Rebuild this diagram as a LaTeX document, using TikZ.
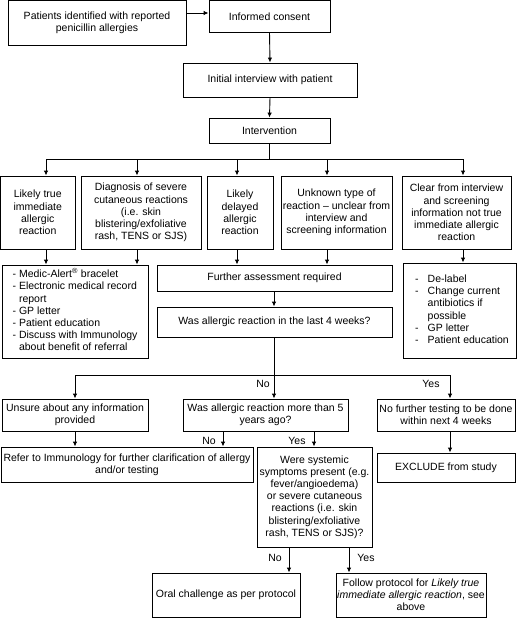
\documentclass[tikz,border=0pt]{standalone}
\usepackage{fontspec}
\setmainfont{Liberation Sans}
\usetikzlibrary{arrows.meta}
\newcommand{\mybox}[6]{\node[box, minimum width={#4pt-#2pt}, minimum height={#5pt-#3pt}] (#1) at ({(#2+#4)/2},{(#3+#5)/2}) {#6};}
\begin{document}
\begin{tikzpicture}[x=1pt,y=-1pt,
  txt/.style={font=\fontsize{10.5}{12.2}\selectfont},
  box/.style={draw, line width=0.9pt, align=center, inner sep=1pt, txt},
  arr/.style={line width=0.9pt, -{Latex[length=5pt,width=4.5pt]}},
  ln/.style={line width=0.9pt},
  lab/.style={txt, inner sep=1pt}]
\useasboundingbox (0,0) rectangle (520,618);
% boxes
\mybox{pat}{8}{0.5}{186}{45}{Patients identified with reported\\penicillin allergies}
\mybox{cons}{209}{0.5}{330}{32}{Informed consent}
\mybox{init}{183}{63}{357}{97}{Initial interview with patient}
\mybox{interv}{209}{118}{330}{143}{Intervention}
\mybox{b1}{0.5}{176}{75}{249}{Likely true\\immediate\\allergic\\reaction}
\mybox{b2}{81}{176}{201}{249}{Diagnosis of severe\\cutaneous reactions\\(i.e. skin\\blistering/exfoliative\\rash, TENS or SJS)}
\mybox{b3}{207}{176}{273}{249}{Likely\\delayed\\allergic\\reaction}
\mybox{b4}{281}{176}{392}{249}{Unknown type of\\reaction -- unclear from\\interview and\\screening information}
\mybox{b5}{402}{176}{511}{249}{Clear from interview\\and screening\\information not true\\immediate allergic\\reaction}
\mybox{medic}{2}{265}{148}{358}{\begin{tabular}{@{}l@{\hspace{3pt}}l@{}}-&Medic-Alert\textsuperscript{®} bracelet\\-&Electronic medical record\\&report\\-&GP letter\\-&Patient education\\-&Discuss with Immunology\\&about benefit of referral\end{tabular}}
\mybox{further}{157}{265}{392}{291}{Further assessment required}
\mybox{was4}{157}{307}{392}{337}{Was allergic reaction in the last 4 weeks?}
\mybox{delabel}{403}{263}{516}{358}{\begin{tabular}{@{\hspace{5pt}}l@{\hspace{9pt}}l@{}}-&De-label\\-&Change current\\&antibiotics if\\&possible\\-&GP letter\\-&Patient education\end{tabular}}
\mybox{unsure}{2}{399}{148}{431}{Unsure about any information\\provided}
\mybox{more5}{183}{399}{348}{431}{Was allergic reaction more than 5\\years ago?}
\mybox{nofurther}{377}{399}{515}{431}{No further testing to be done\\within next 4 weeks}
\mybox{refer}{1}{447}{253}{482}{Refer to Immunology for further clarification of allergy\\and/or testing}
\mybox{systemic}{257}{447}{372}{547}{Were systemic\\symptoms present (e.g.\\fever/angioedema)\\or severe cutaneous\\reactions (i.e. skin\\blistering/exfoliative\\rash, TENS or SJS)?}
\mybox{exclude}{377}{453}{515}{482}{EXCLUDE from study}
\mybox{oral}{152}{573}{300}{617}{Oral challenge as per protocol}
\mybox{follow}{336}{573}{486}{617}{Follow protocol for \emph{Likely true}\\\emph{immediate allergic reaction}, see\\above}
% helper coordinates
\coordinate (bus) at (0,159);
\coordinate (bus2) at (0,375);
\coordinate (x46) at (46,0);
\coordinate (x137) at (137,0);
\coordinate (x237) at (237,0);
\coordinate (x327) at (327,0);
\coordinate (x463) at (463,0);
\coordinate (x274) at (274,0);
\coordinate (x75) at (75,0);
\coordinate (x450) at (450,0);
\coordinate (x223) at (223,0);
\coordinate (x314) at (314,0);
\coordinate (x289) at (289,0);
\coordinate (x349) at (349,0);
\coordinate (y13) at (0,13);
% connectors
\draw[arr] (pat.east |- y13) -- (cons.west |- y13);
\draw[arr] (cons.south) -- (init.north);
\draw[arr] (init.south) -- (interv.north);
\draw[ln] (interv.south) -- (interv.south |- bus);
\draw[ln] (x46 |- bus) -- (x463 |- bus);
\draw[arr] (x46 |- bus) -- (x46 |- b1.north);
\draw[arr] (x137 |- bus) -- (x137 |- b2.north);
\draw[arr] (x237 |- bus) -- (x237 |- b3.north);
\draw[arr] (x327 |- bus) -- (x327 |- b4.north);
\draw[arr] (x463 |- bus) -- (x463 |- b5.north);
\draw[arr] (x46 |- b1.south) -- (x46 |- medic.north);
\draw[arr] (x137 |- b2.south) -- (x137 |- medic.north);
\draw[arr] (x237 |- b3.south) -- (x237 |- further.north);
\draw[arr] (x327 |- b4.south) -- (x327 |- further.north);
\draw[arr] (x463 |- b5.south) -- (x463 |- delabel.north);
\draw[arr] (x274 |- further.south) -- (x274 |- was4.north);
\draw[ln] (x274 |- was4.south) -- (x274 |- bus2);
\draw[ln] (x75 |- bus2) -- (x450 |- bus2);
\draw[arr] (x274 |- bus2) -- (x274 |- more5.north);
\draw[arr] (x75 |- bus2) -- (x75 |- unsure.north);
\draw[arr] (x450 |- bus2) -- (x450 |- nofurther.north);
\draw[arr] (x75 |- unsure.south) -- (x75 |- refer.north);
\draw[arr] (x223 |- more5.south) -- (x223 |- refer.north);
\draw[arr] (x314 |- more5.south) -- (x314 |- systemic.north);
\draw[arr] (x450 |- nofurther.south) -- (x450 |- exclude.north);
\draw[arr] (x289 |- systemic.south) -- (x289 |- oral.north);
\draw[arr] (x349 |- systemic.south) -- (x349 |- follow.north);
% labels
\node[lab] (lno1) at (263,384) {No};
\node[lab] (lyes1) at (431,384) {Yes};
\node[lab] (lno2) at (209,441) {No};
\node[lab] (lyes2) at (297,441) {Yes};
\node[lab] (lno3) at (275,558) {No};
\node[lab] (lyes3) at (366,558) {Yes};
\end{tikzpicture}
\end{document}
